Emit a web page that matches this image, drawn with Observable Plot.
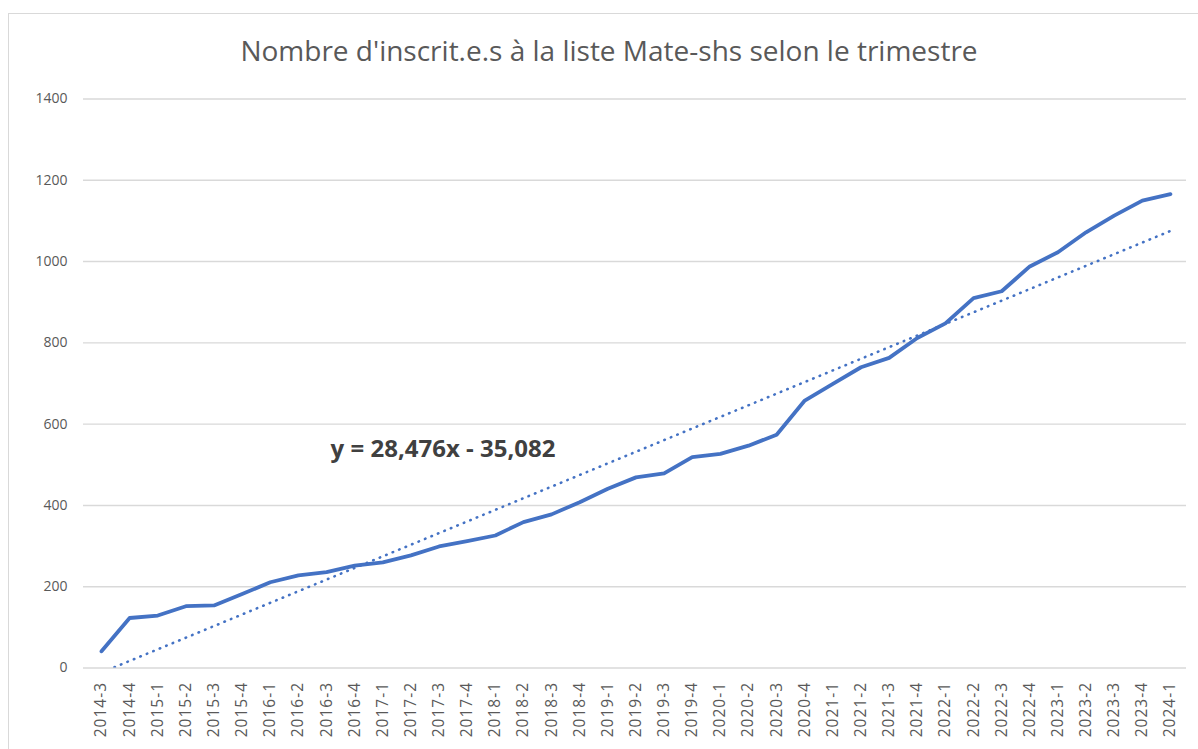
<!DOCTYPE html>
<html>
<head>
<meta charset="utf-8">
<script src="https://cdn.jsdelivr.net/npm/d3@7"></script>
<script src="https://cdn.jsdelivr.net/npm/@observablehq/plot@0.6"></script>
<style>
  html, body { margin: 0; padding: 0; background: #fff; overflow: hidden; width: 1198px; height: 749px; }
  #frame { position: absolute; left: 8px; top: 13px; width: 1200px; height: 800px; border: 1px solid #d9d9d9; box-sizing: border-box; }
  #title { position: absolute; left: 0; top: 31px; width: 1218px; text-align: center; font-family: "Open Sans", sans-serif; font-size: 28px; color: #595959; line-height: 38px; }
  #chart { position: absolute; left: 0; top: 0; }
  #chart g[aria-label="x-axis tick label"] text { letter-spacing: 1px; }
</style>
</head>
<body>
<div id="frame"></div>
<div id="title"></div>
<div id="chart"></div>
<script>
const title = "Nombre d'inscrit.e.s à la liste Mate-shs selon le trimestre";
const quarters = [
  "2014-3","2014-4",
  "2015-1","2015-2","2015-3","2015-4",
  "2016-1","2016-2","2016-3","2016-4",
  "2017-1","2017-2","2017-3","2017-4",
  "2018-1","2018-2","2018-3","2018-4",
  "2019-1","2019-2","2019-3","2019-4",
  "2020-1","2020-2","2020-3","2020-4",
  "2021-1","2021-2","2021-3","2021-4",
  "2022-1","2022-2","2022-3","2022-4",
  "2023-1","2023-2","2023-3","2023-4",
  "2024-1"
];
const inscrits = [
  41, 123,
  129, 152, 154, 182,
  211, 228, 236, 252,
  260, 277, 299, 312,
  326, 359, 378, 408,
  441, 469, 479, 519,
  527, 547, 574, 658,
  699, 740, 763, 812,
  848, 910, 927, 988,
  1023, 1072, 1113, 1150,
  1166
];
const yTicks = [0, 200, 400, 600, 800, 1000, 1200, 1400];
const equation = "y = 28,476x - 35,082";

document.getElementById("title").textContent = title;

const data = quarters.map((q, i) => ({i: i + 1, q, v: inscrits[i]}));
const xTicks = data.map(d => d.i);

const chart = Plot.plot({
  width: 1198,
  height: 749,
  marginTop: 98.5,
  marginBottom: 81.5,
  marginLeft: 83,
  marginRight: 12,
  style: {fontFamily: "'Open Sans', sans-serif", background: "transparent", color: "#595959"},
  x: {type: "linear", domain: [0.36, 39.57]},
  y: {domain: [0, 1400]},
  marks: [
    Plot.ruleY(yTicks, {stroke: "#d9d9d9", strokeWidth: 1.4}),
    Plot.axisY(yTicks, {tickSize: 0, tickPadding: 16, fontSize: 14, fill: "#595959", label: null, tickFormat: d => String(d)}),
    Plot.axisX(xTicks, {
      tickSize: 0, tickPadding: 14, tickRotate: -90, fontSize: 15.5, fill: "#595959", label: null,
      tickFormat: i => quarters[i - 1]
    }),
    Plot.linearRegressionY(data, {
      x: "i", y: "v", ci: 0, stroke: "#4472C4", strokeWidth: 2.6,
      strokeDasharray: "0.5,6.5", strokeLinecap: "round", clip: true
    }),
    Plot.line(data, {x: "i", y: "v", stroke: "#4472C4", strokeWidth: 3.8, strokeLinejoin: "round", strokeLinecap: "round"}),
    Plot.text([equation], {
      x: 13.14, y: 518, text: d => d, fontSize: 24, fontWeight: "bold", fill: "#404040",
      textAnchor: "middle", lineAnchor: "bottom"
    })
  ]
});
document.getElementById("chart").appendChild(chart);
</script>
</body>
</html>
